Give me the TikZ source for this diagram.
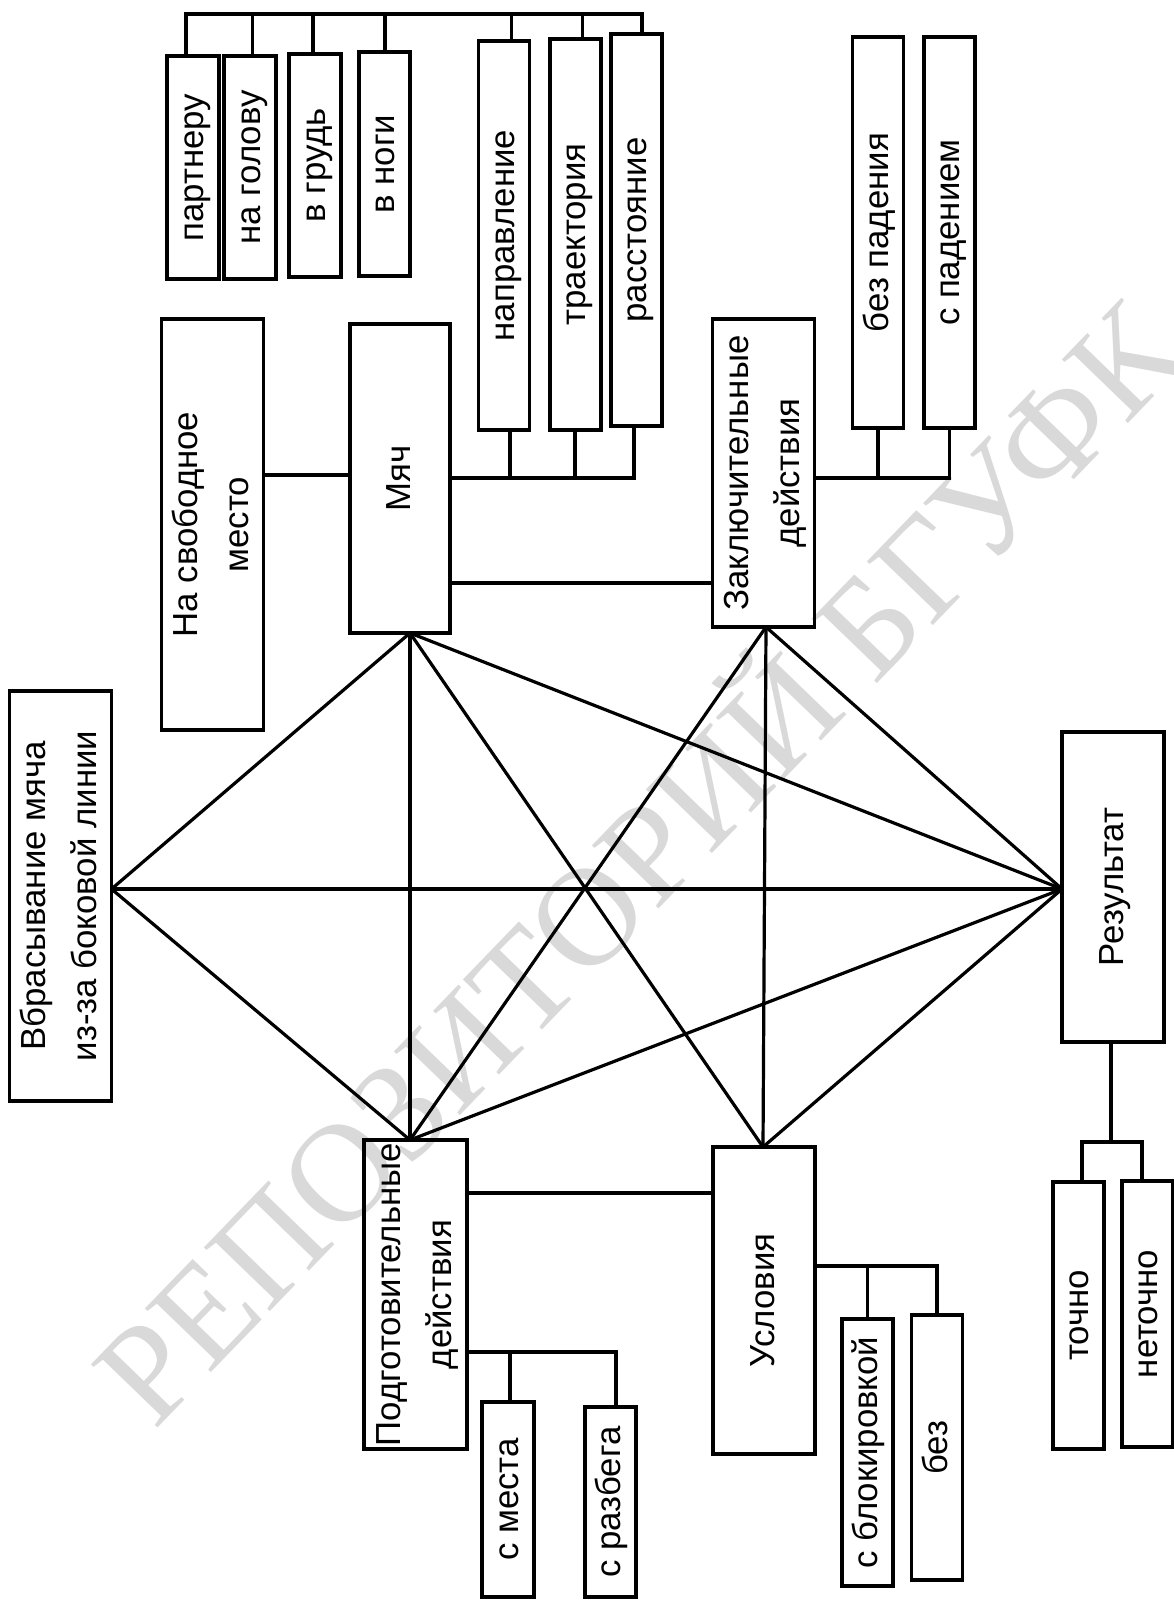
\documentclass[tikz,border=0pt]{standalone}
\usepackage{fontspec}
\usepackage{graphicx}
\setmainfont{Liberation Sans}
\newfontfamily\wmfont{Liberation Serif}
\newcommand\vlab[1]{\rotatebox{90}{\begin{tabular}{@{}c@{}}#1\end{tabular}}}
\newcommand\mkbox[6]{\node[bx, minimum width={(#4-#2)*0.5pt}, minimum height={(#5-#3)*0.5pt}] (#1) at ({(#2+#4)/2},{(#3+#5)/2}) {\vlab{#6}};}
\tikzset{
  bx/.style={draw=black, line width=1.7pt, fill=none, inner sep=0pt, outer sep=0pt,
             font=\fontsize{17.4}{25.5}\selectfont},
  ln/.style={draw=black, line width=1.6pt},
  wm/.style={text=black!15, font=\wmfont\fontsize{70}{70}\selectfont, inner sep=0pt}
}
\begin{document}
\begin{tikzpicture}[x=0.5pt, y=-0.5pt]
\useasboundingbox (0,0) rectangle (1173,1601);
\fill[white] (0,0) rectangle (1173,1601);
% watermark
\node[wm, rotate=46] (wmark) at (630,855) {РЕПОЗИТОРИЙ БГУФК};

% boxes
\mkbox{partner}{167}{56}{219}{279}{партнеру}
\mkbox{golova}{224}{56}{276}{279}{на голову}
\mkbox{grud}{289}{54}{341}{277}{в грудь}
\mkbox{nogi}{359}{52}{410}{276}{в ноги}
\mkbox{napr}{479}{41}{529}{430}{направление}
\mkbox{traek}{550}{39}{601}{430}{траектория}
\mkbox{rasst}{611}{34}{662}{426}{расстояние}
\mkbox{bezpad}{853}{37}{903}{428}{без падения}
\mkbox{spad}{924}{37}{975}{428}{с падением}
\mkbox{svob}{162}{319}{263}{730}{На свободное\\место}
\mkbox{myach}{350}{324}{450}{633}{Мяч}
\mkbox{zakl}{713}{319}{814}{627}{Заключительные\\действия}
\mkbox{vbros}{10}{691}{111}{1101}{Вбрасывание мяча\\из-за боковой линии}
\mkbox{rez}{1062}{732}{1164}{1042}{Результат}
\mkbox{podg}{364}{1140}{467}{1449}{Подготовительные\\действия}
\mkbox{usl}{713}{1147}{815}{1454}{Условия}
\mkbox{smesta}{482}{1402}{534}{1597}{с места}
\mkbox{srazb}{585}{1407}{636}{1597}{с разбега}
\mkbox{sblok}{842}{1319}{893}{1586}{с блокировкой}
\mkbox{bez}{912}{1315}{962}{1580}{без}
\mkbox{tochno}{1053}{1182}{1104}{1449}{точно}
\mkbox{netochno}{1124}{1181}{1171}{1447}{неточно}

% level coordinates
\coordinate (ytop) at (0,14);
\coordinate (ym) at (0,478);
\coordinate (ys) at (0,475);
\coordinate (yz) at (0,583);
\coordinate (yu) at (0,1193);
\coordinate (yp) at (0,1352);
\coordinate (yb) at (0,1266);
\coordinate (yr) at (0,1142);
\coordinate (ymid) at (0,889);

% top bus
\path ([xshift=-3.5pt]partner.north) coordinate (p1)
      ([xshift=1.35pt]golova.north) coordinate (p2)
      ([xshift=-1pt]grud.north) coordinate (p3)
      ([xshift=0.25pt]nogi.north) coordinate (p4)
      ([xshift=3.85pt]napr.north) coordinate (p5)
      ([xshift=3.6pt]traek.north) coordinate (p6)
      ([xshift=2.75pt]rasst.north) coordinate (p7);
\draw[ln] (p1) |- (p7 |- ytop) -- (p7);
\foreach \i in {2,...,6} \draw[ln] (p\i) -- (p\i |- ytop);

% ball bus
\path ([xshift=3pt]napr.south) coordinate (q1)
      ([xshift=-0.25pt]traek.south) coordinate (q2)
      ([xshift=-1.25pt]rasst.south) coordinate (q3);
\draw[ln] (myach.east |- ym) -| (q3);
\draw[ln] (q1) -- (q1 |- ym);
\draw[ln] (q2) -- (q2 |- ym);

\draw[ln] (svob.east |- ys) -- (myach.west |- ys);
\draw[ln] (myach.east |- yz) -- (zakl.west |- yz);

% final actions bus
\draw[ln] (zakl.east |- ym) -| (spad.south);
\draw[ln] (bezpad.south) -- (bezpad.south |- ym);

% preparatory
\draw[ln] (podg.east |- yu) -- (usl.west |- yu);
\path ([xshift=1pt]smesta.north) coordinate (r1)
      ([xshift=2.75pt]srazb.north) coordinate (r2);
\draw[ln] (podg.east |- yp) -| (r2);
\draw[ln] (r1) -- (r1 |- yp);

% conditions
\draw[ln] (usl.east |- yb) -| (bez.north);
\draw[ln] (sblok.north) -- (sblok.north |- yb);

% result
\path ([xshift=-1pt]rez.south) coordinate (rs)
      ([xshift=1.75pt]tochno.north) coordinate (t1)
      ([xshift=-2.75pt]netochno.north) coordinate (t2);
\draw[ln] (rs) -- (rs |- yr);
\draw[ln] (t1) |- (t2 |- yr) -- (t2);

% star
\coordinate (hV) at (vbros.east |- ymid);
\coordinate (hR) at (rez.west |- ymid);
\path ([xshift=5pt]myach.south) coordinate (hM)
      ([xshift=-2.75pt]podg.north) coordinate (hP)
      ([xshift=1.25pt]zakl.south) coordinate (hZ)
      ([xshift=-0.5pt]usl.north) coordinate (hU);
\foreach \a/\b in {hV/hM, hV/hP, hV/hR, hM/hP, hM/hU, hM/hR, hZ/hP, hZ/hU, hZ/hR, hP/hR, hU/hR}
  \draw[ln] (\a) -- (\b);
\end{tikzpicture}
\end{document}
